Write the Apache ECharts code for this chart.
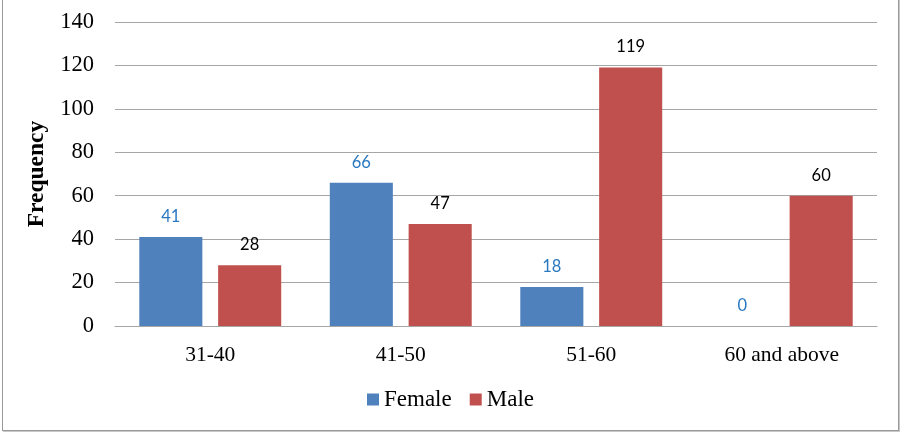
<!DOCTYPE html>
<html>
<head>
<meta charset="utf-8">
<script src="https://cdn.jsdelivr.net/npm/echarts@6/dist/echarts.min.js"></script>
<style>
html,body{margin:0;padding:0;background:#fff;}
#frame{position:absolute;left:2px;top:-1px;width:895px;height:430px;border:1px solid #9a9a9a;box-shadow:1px 1px 0 #c8c8c8;}
#chart{position:absolute;left:0;top:0;width:901px;height:434px;}
</style>
</head>
<body>
<div id="frame"></div>
<div id="chart"></div>
<script>
const categories = ['31-40', '41-50', '51-60', '60 and above'];
const femaleValues = [41, 66, 18, 0];
const maleValues = [28, 47, 119, 60];
const yTicks = { min: 0, max: 140, interval: 20 };

const chart = echarts.init(document.getElementById('chart'));
const serif = '"Liberation Serif", "Times New Roman", serif';
const sans = 'Lato, "Open Sans", sans-serif';
chart.setOption({
  animation: false,
  backgroundColor: 'transparent',
  grid: { left: 115, right: 24, top: 22, bottom: 108, containLabel: false },
  legend: {
    data: ['Female', 'Male'],
    bottom: 18,
    left: 'center',
    itemWidth: 12,
    itemHeight: 12,
    itemGap: 18,
    icon: 'rect',
    textStyle: { fontFamily: serif, fontSize: 23, color: '#000' }
  },
  xAxis: {
    type: 'category',
    data: categories,
    axisTick: { show: false },
    axisLine: { lineStyle: { color: '#a6a6a6', width: 1 } },
    axisLabel: { fontFamily: serif, fontSize: 21.5, color: '#000', margin: 18 }
  },
  yAxis: {
    type: 'value',
    min: yTicks.min,
    max: yTicks.max,
    interval: yTicks.interval,
    name: 'Frequency',
    nameLocation: 'middle',
    nameGap: 65,
    nameTextStyle: { fontFamily: serif, fontSize: 23.5, fontWeight: 'bold', color: '#000' },
    axisLine: { show: false },
    axisTick: { show: false },
    splitLine: { lineStyle: { color: '#a6a6a6', width: 1 } },
    axisLabel: { fontFamily: serif, fontSize: 22.5, color: '#000', margin: 21 }
  },
  series: [
    {
      name: 'Female',
      type: 'bar',
      data: femaleValues,
      barGap: '25%',
      barCategoryGap: '25.5%',
      itemStyle: { color: '#4f81bd' },
      label: { show: true, position: 'top', distance: 12, fontFamily: sans, fontSize: 16.5, color: '#2a78c0' }
    },
    {
      name: 'Male',
      type: 'bar',
      data: maleValues,
      itemStyle: { color: '#c0504d' },
      label: { show: true, position: 'top', distance: 12, fontFamily: sans, fontSize: 16.5, color: '#000' }
    }
  ]
});
</script>
</body>
</html>
